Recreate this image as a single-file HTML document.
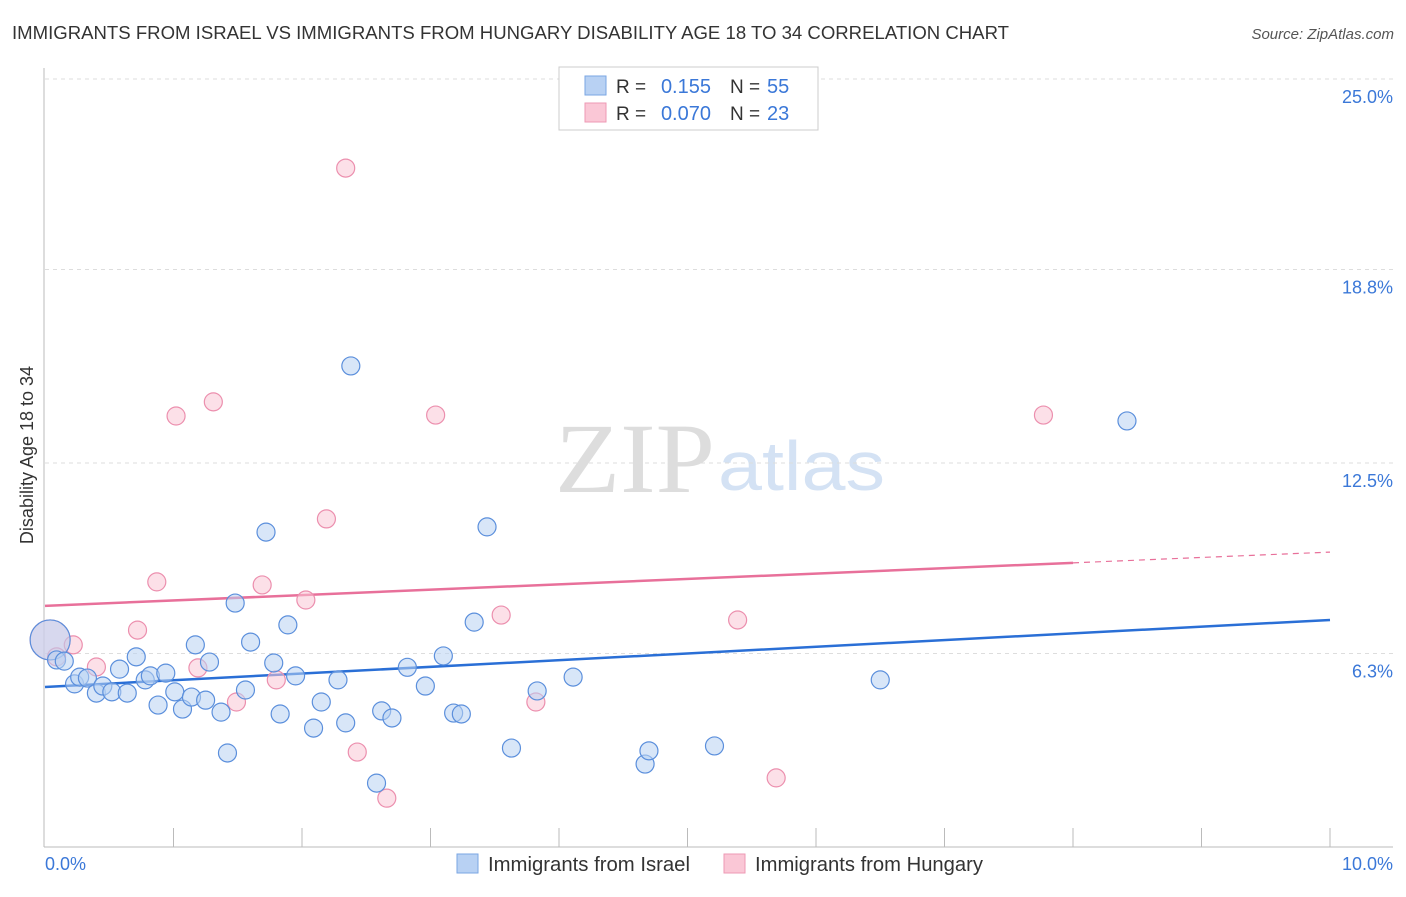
<!DOCTYPE html>
<html><head><meta charset="utf-8"><style>
body{margin:0;background:#fff;font-family:"Liberation Sans",sans-serif;}
</style></head><body>
<svg width="1406" height="892" xmlns="http://www.w3.org/2000/svg">
<text x="12" y="39" font-size="18" fill="#333" textLength="997" lengthAdjust="spacingAndGlyphs">IMMIGRANTS FROM ISRAEL VS IMMIGRANTS FROM HUNGARY DISABILITY AGE 18 TO 34 CORRELATION CHART</text>
<text x="1394" y="39" font-size="15" fill="#555" font-style="italic" text-anchor="end">Source: ZipAtlas.com</text>
<text x="555" y="492" font-size="100" fill="#ddd" textLength="160" lengthAdjust="spacingAndGlyphs" font-family="Liberation Serif,serif">ZIP</text>
<text x="718" y="490" font-size="70" fill="#d4e2f4" textLength="167" lengthAdjust="spacingAndGlyphs">atlas</text>
<g id="grid"></g>
<line x1="44" y1="68" x2="44" y2="847" stroke="#bbb"/>
<line x1="44" y1="847" x2="1393" y2="847" stroke="#bbb"/>
<g id="ticks"></g>
<text x="33" y="455" font-size="18" fill="#333" text-anchor="middle" transform="rotate(-90 33 455)">Disability Age 18 to 34</text>
<text x="45" y="870" font-size="18" fill="#3b78d8">0.0%</text>
<text x="1393" y="870" font-size="18" fill="#3b78d8" text-anchor="end">10.0%</text>
<g id="lines"></g>
<g id="points"></g>
<g>
<rect x="559" y="67" width="259" height="63" fill="#fff" stroke="#ccc"/>
<rect x="585" y="76" width="21" height="19" fill="#b8d1f3" stroke="#7aa6e3"/>
<rect x="585" y="103" width="21" height="19" fill="#fac7d6" stroke="#ee9ab4"/>
<text x="616" y="93" font-size="19" fill="#333">R =</text>
<text x="711" y="93" font-size="20" fill="#3b78d8" text-anchor="end">0.155</text>
<text x="730" y="93" font-size="19" fill="#333">N =</text>
<text x="767" y="93" font-size="20" fill="#3b78d8">55</text>
<text x="616" y="120" font-size="19" fill="#333">R =</text>
<text x="711" y="120" font-size="20" fill="#3b78d8" text-anchor="end">0.070</text>
<text x="730" y="120" font-size="19" fill="#333">N =</text>
<text x="767" y="120" font-size="20" fill="#3b78d8">23</text>
</g>
<g><rect x="457" y="854" width="21" height="19" fill="#b8d1f3" stroke="#7aa6e3"/><text x="488" y="871" font-size="20" fill="#333" textLength="202" lengthAdjust="spacingAndGlyphs">Immigrants from Israel</text></g>
<g><rect x="724" y="854" width="21" height="19" fill="#fac7d6" stroke="#ee9ab4"/><text x="755" y="871" font-size="20" fill="#333" textLength="228" lengthAdjust="spacingAndGlyphs">Immigrants from Hungary</text></g>
</svg>
<script>
const yTicks=[25.0,18.8,12.5,6.3];
const yTickLabels=["25.0%","18.8%","12.5%","6.3%"];
const israelX=[0.04,0.09,0.15,0.23,0.27,0.33,0.40,0.45,0.52,0.58,0.64,0.71,0.78,0.82,0.88,0.94,1.01,1.07,1.14,1.17,1.25,1.28,1.37,1.42,1.48,1.56,1.60,1.72,1.78,1.83,1.89,1.95,2.09,2.15,2.28,2.34,2.38,2.58,2.62,2.70,2.82,2.96,3.10,3.18,3.24,3.34,3.44,3.63,3.83,4.11,4.67,4.70,5.21,6.50,8.42];
const israelY=[6.74,6.09,6.05,5.31,5.53,5.50,5.01,5.24,5.05,5.79,5.01,6.19,5.44,5.57,4.62,5.66,5.05,4.49,4.88,6.58,4.78,6.02,4.39,3.06,7.94,5.11,6.67,10.25,5.99,4.33,7.23,5.57,3.87,4.72,5.44,4.04,15.66,2.08,4.43,4.20,5.85,5.24,6.22,4.36,4.33,7.32,10.42,3.22,5.08,5.53,2.70,3.13,3.29,5.44,13.87];
const hungaryX=[0.04,0.22,0.40,0.72,0.87,1.02,1.19,1.31,1.49,1.69,1.80,2.03,2.19,2.43,2.34,2.66,3.04,3.55,3.82,5.39,5.69,7.77,0.09];
const hungaryY=[6.74,6.58,5.86,7.06,8.63,14.03,5.83,14.49,4.72,8.53,5.44,8.04,10.68,3.09,22.10,1.59,14.06,7.55,4.72,7.39,2.25,14.06,6.19];
const israelTrend=[5.21,7.39];
const hungaryTrend=[7.85,9.60];
const NS="http://www.w3.org/2000/svg";
const xs=v=>45+v*128.5;
const ys=v=>79+(25-v)*30.72;
function mk(t,a,p){const e=document.createElementNS(NS,t);for(const k in a)e.setAttribute(k,a[k]);p.appendChild(e);return e;}
const grid=document.getElementById('grid'),ticks=document.getElementById('ticks'),lines=document.getElementById('lines'),pts=document.getElementById('points');
yTicks.forEach((t,i)=>{
 const l=mk('line',{x1:45,x2:1393,y1:ys(t),y2:ys(t),stroke:'#ddd','stroke-dasharray':'4,4'},grid);
 
 
 const tx=mk('text',{x:1393,y:ys(t)+24,'font-size':18,fill:'#3b78d8','text-anchor':'end'},grid);
 tx.textContent=yTickLabels[i];
 
 
});
for(let i=1;i<=10;i++){
 const l=mk('line',{x1:xs(i),x2:xs(i),y1:828,y2:847,stroke:'#bbb'},ticks);
 
 
}
const bl=mk('line',{x1:xs(0),x2:xs(10),y1:ys(israelTrend[0]),y2:ys(israelTrend[1]),stroke:'#2a6fd6','stroke-width':2.5},lines);


const hy=v=>hungaryTrend[0]+(hungaryTrend[1]-hungaryTrend[0])*v/10;
const pl=mk('line',{x1:xs(0),x2:xs(8),y1:ys(hy(0)),y2:ys(hy(8)),stroke:'#e8709a','stroke-width':2.5},lines);


const pd=mk('line',{x1:xs(8),x2:xs(10),y1:ys(hy(8)),y2:ys(hy(10)),stroke:'#e8709a','stroke-width':1.2,'stroke-dasharray':'6,5'},lines);


function draw(X,Y,fill,stroke,name){
 X.forEach((x,i)=>{
  const c=mk('circle',{cx:xs(x),cy:ys(Y[i]),r:i===0?20:9,fill:fill,'fill-opacity':0.55,stroke:stroke,'stroke-width':1.2},pts);
  
  
 });
}
draw(hungaryX,hungaryY,'#fac7d6','#ec8fae','hungary-point');
draw(israelX,israelY,'#b8d1f3','#5b8fdc','israel-point');
</script>
</body></html>
